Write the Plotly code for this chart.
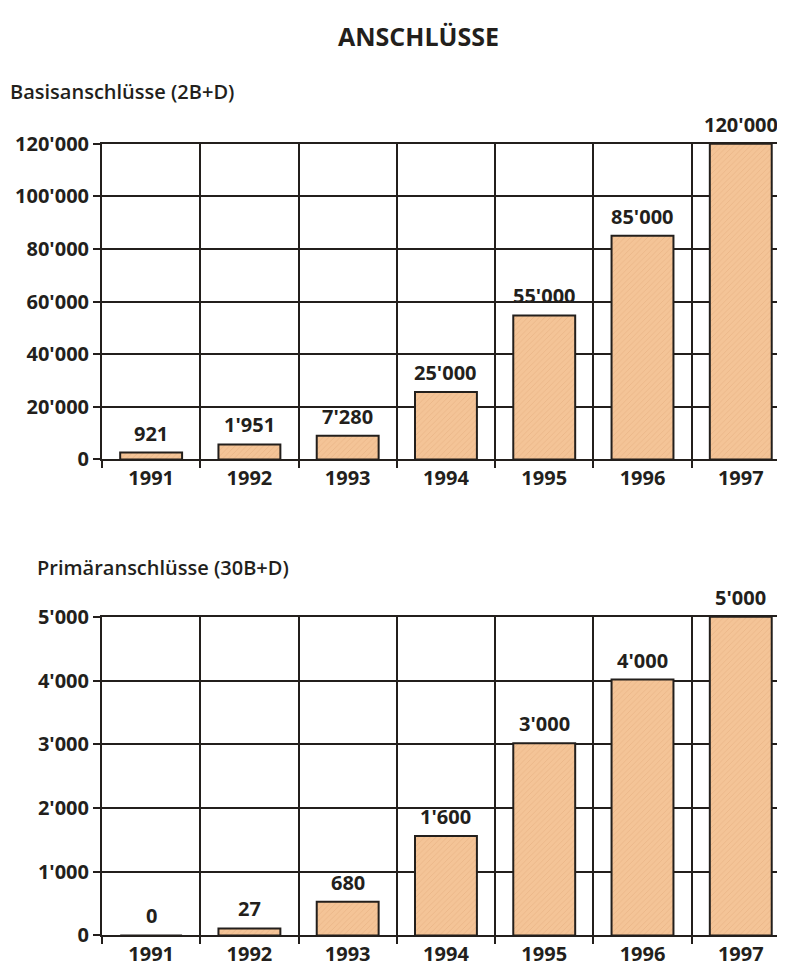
import plotly.graph_objects as go

years = ["1991", "1992", "1993", "1994", "1995", "1996", "1997"]

# Basisanschlüsse (2B+D)
basis_heights = [2600, 5700, 9000, 25600, 54700, 85000, 120000]
basis_labels = ["921", "1'951", "7'280", "25'000", "55'000", "85'000", "120'000"]
basis_ticks = [0, 20000, 40000, 60000, 80000, 100000, 120000]

# Primäranschlüsse (30B+D)
primaer_heights = [0, 110, 530, 1560, 3015, 4015, 5000]
primaer_labels = ["0", "27", "680", "1'600", "3'000", "4'000", "5'000"]
primaer_ticks = [0, 1000, 2000, 3000, 4000, 5000]

title_text = "ANSCHLÜSSE"
sub1 = "Basisanschlüsse (2B+D)"
sub2 = "Primäranschlüsse (30B+D)"

FONT = "Open Sans"
INK = "#231f1c"
BAR = "#f4c497"

OFF = 8                       # default body margin of the html page
W, H = 785 - OFF, 967 - OFF
L = 102 - OFF


def px_x(x):
    return (x - OFF - L) / (W - L)


def px_y(y):
    return 1 - (y - OFF) / H


bar_marker = dict(color=BAR, line=dict(color=INK, width=2),
                  pattern=dict(shape="/", fgcolor="#e6b081", bgcolor=BAR,
                               size=4, solidity=0.15, fillmode="replace"))

fig = go.Figure()
fig.add_trace(go.Bar(x=years, y=basis_heights, xaxis="x", yaxis="y",
                     marker=bar_marker, width=0.63, cliponaxis=False, hoverinfo="skip"))
fig.add_trace(go.Bar(x=years, y=primaer_heights, xaxis="x2", yaxis="y2",
                     marker=bar_marker, width=0.63, cliponaxis=False, hoverinfo="skip"))

annotations = []
for xr, yr, hs, labs in [("x", "y", basis_heights, basis_labels),
                         ("x2", "y2", primaer_heights, primaer_labels)]:
    for i, (hv, lab) in enumerate(zip(hs, labs)):
        annotations.append(dict(x=i, y=hv, xref=xr, yref=yr, text=lab,
                                showarrow=False, yanchor="bottom", xanchor="center",
                                yshift=4,
                                font=dict(family=FONT, size=20, color=INK, weight="bold")))

annotations.append(dict(x=px_x(418), y=px_y(22), xref="paper", yref="paper",
                        text=title_text, showarrow=False, xanchor="center", yanchor="middle",
                        font=dict(family=FONT, size=25, color=INK, weight="bold")))
annotations.append(dict(x=px_x(8), y=px_y(80), xref="paper", yref="paper",
                        text=sub1, showarrow=False, xanchor="left", yanchor="middle",
                        font=dict(family=FONT, size=20, color=INK, weight=600)))
annotations.append(dict(x=px_x(35), y=px_y(573), xref="paper", yref="paper",
                        text=sub2, showarrow=False, xanchor="left", yanchor="middle",
                        font=dict(family=FONT, size=20, color=INK, weight=600)))


def xaxis(anchor):
    return dict(type="category", anchor=anchor, domain=[0, 1], range=[-0.5, 6.45],
                tickson="boundaries", showgrid=True, gridcolor=INK, gridwidth=1.5,
                ticks="outside", ticklen=7, tickwidth=1.5, tickcolor=INK,
                showline=True, linecolor=INK, linewidth=2, mirror=True,
                tickfont=dict(family=FONT, size=20, color=INK, weight="bold"),
                fixedrange=True)


def yaxis(anchor, top, bottom, rng, tv):
    return dict(anchor=anchor, domain=[px_y(bottom), px_y(top)], range=rng,
                tickvals=tv, tickformat=",d",
                showgrid=True, gridcolor=INK, gridwidth=1.5, zeroline=False,
                ticks="outside", ticklen=7, tickwidth=1.5, tickcolor=INK,
                showline=True, linecolor=INK, linewidth=2,
                tickfont=dict(family=FONT, size=20, color=INK, weight="bold"),
                fixedrange=True)


fig.update_layout(
    width=W, height=H,
    margin=dict(l=L, r=0, t=0, b=0),
    paper_bgcolor="white", plot_bgcolor="white",
    separators=".'",
    showlegend=False,
    xaxis=xaxis("y"),
    yaxis=yaxis("x", 134, 461, [0, 120000], basis_ticks),
    xaxis2=xaxis("y2"),
    yaxis2=yaxis("x2", 624, 954, [0, 5000], primaer_ticks),
    annotations=annotations,
)

fig.write_html("out.html")
